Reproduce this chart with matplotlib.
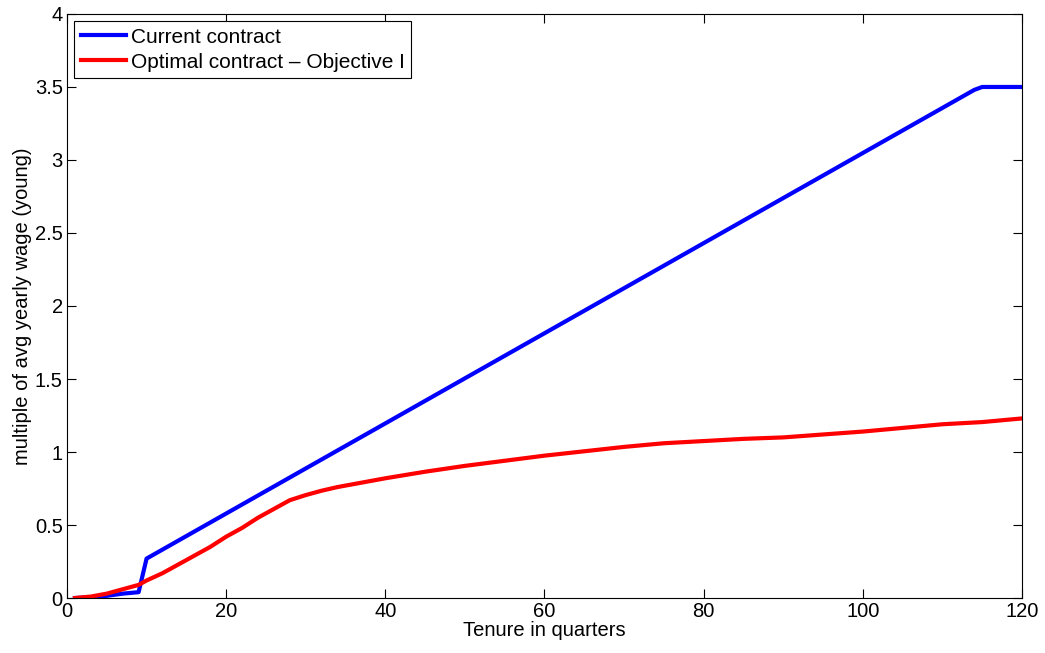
import matplotlib.pyplot as plt

plt.rcParams['font.family'] = ['Liberation Sans', 'DejaVu Sans']

# tenure (quarters) and values
current_q = [1, 3, 5, 7, 9, 10, 114, 115, 120]
current_v = [0.0, 0.005, 0.015, 0.03, 0.04, 0.27, 3.48, 3.5, 3.5]

optimal_q = [1, 3, 5, 7, 9, 10, 12, 14, 16, 18, 20, 22, 24, 26, 28, 30, 32, 34,
             36, 38, 40, 45, 50, 55, 60, 65, 70, 75, 80, 85, 90, 95, 100, 105,
             110, 115, 118, 120]
optimal_v = [0.0, 0.01, 0.03, 0.06, 0.09, 0.12, 0.17, 0.23, 0.29, 0.35, 0.42,
             0.48, 0.55, 0.61, 0.67, 0.705, 0.735, 0.76, 0.78, 0.80, 0.82,
             0.865, 0.905, 0.94, 0.975, 1.005, 1.035, 1.06, 1.075, 1.09, 1.10,
             1.12, 1.14, 1.165, 1.19, 1.205, 1.22, 1.23]

xticks = [0, 20, 40, 60, 80, 100, 120]
yticks = [0, 0.5, 1, 1.5, 2, 2.5, 3, 3.5, 4]
ytick_labels = ['0', '0.5', '1', '1.5', '2', '2.5', '3', '3.5', '4']

fig = plt.figure(figsize=(10.45, 6.53), dpi=100)
ax = fig.add_axes([0.0641, 0.0842, 0.9139, 0.8944])

ax.plot(current_q, current_v, color='#0000ff', lw=3, label='Current contract')
ax.plot(optimal_q, optimal_v, color='#ff0000', lw=3,
        label='Optimal contract \u2013 Objective I')

ax.set_xlim(0, 120)
ax.set_ylim(0, 4)
ax.set_xticks(xticks)
ax.set_xticklabels([str(t) for t in xticks])
ax.set_yticks(yticks)
ax.set_yticklabels(ytick_labels)
ax.tick_params(direction='in', length=6.5, width=0.8, labelsize=14.5,
               top=True, right=True, pad=3)
for s in ax.spines.values():
    s.set_linewidth(0.8)

ax.set_xlabel('Tenure in quarters', fontsize=14.5, labelpad=0)
ax.set_ylabel('multiple of avg yearly wage (young)', fontsize=14.5, labelpad=2)

leg = ax.legend(loc='upper left', fontsize=15, fancybox=False, framealpha=1,
                edgecolor='black', handlelength=2.2, handletextpad=0.2,
                borderaxespad=0.35, borderpad=0.3, labelspacing=0.3)
leg.get_frame().set_linewidth(0.8)

fig.savefig('out.png', dpi=100)
